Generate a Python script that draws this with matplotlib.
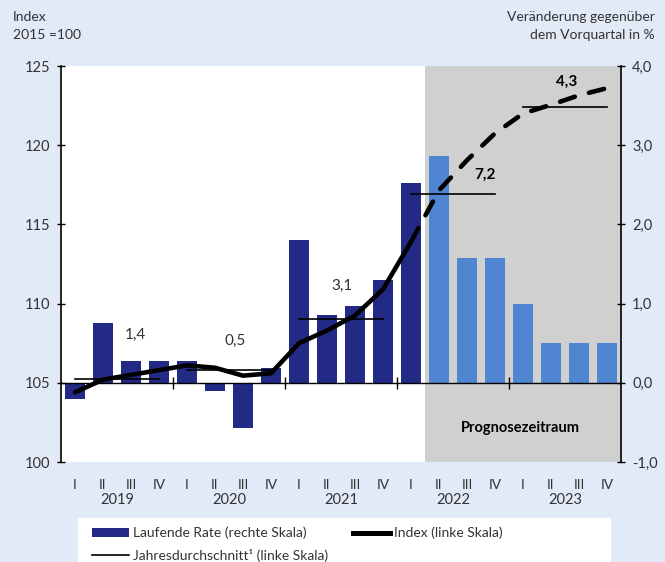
import matplotlib.pyplot as plt
from matplotlib.lines import Line2D
from matplotlib.patches import Patch, Rectangle

# quarters 2019 Q1 .. 2023 Q4
quarters = ['I', 'II', 'III', 'IV'] * 5
years = ['2019', '2020', '2021', '2022', '2023']

# Laufende Rate (rechte Skala), % gegenueber Vorquartal
rate = [-0.2, 0.76, 0.28, 0.28, 0.28, -0.1, -0.57, 0.19,
        1.8, 0.86, 0.97, 1.3, 2.52,
        2.86, 1.58, 1.57, 1.0, 0.5, 0.5, 0.5]
n_actual = 13  # 2019Q1 .. 2022Q1 sind Ist-Werte

# Index (linke Skala), 2015 = 100
index = [104.4, 105.2, 105.5, 105.8, 106.1, 105.95, 105.45, 105.6,
         107.5, 108.3, 109.25, 110.9, 113.9,
         117.15, 119.05, 120.75, 122.0, 122.55, 123.15, 123.6]

# Jahresdurchschnitte (linke Skala) und Veraenderungsraten
year_avg = [105.25, 105.8, 109.05, 116.95, 122.4]
year_rate = ['1,4', '0,5', '3,1', '7,2', '4,3']
label_x = [2.14, 5.71, 9.54, 14.64, 17.57]
label_y = [108.0, 107.65, 111.1, 118.1, 124.0]

bg = '#e2e9f7'
dark_blue = '#232a86'
light_blue = '#5085d2'
grey = '#d0d0d0'
txt = '#333333'

plt.rcParams['font.family'] = ['Lato', 'DejaVu Sans']

fig = plt.figure(figsize=(6.65, 5.62), dpi=100, facecolor=bg)
ax2 = fig.add_axes([61 / 665, 100 / 562, 560 / 665, 396 / 562])
ax = ax2.twinx()
# index axis on the left, rate axis on the right
ax.yaxis.tick_left()
ax2.yaxis.tick_right()
ax.set_zorder(ax2.get_zorder() + 1)
ax.patch.set_visible(False)
ax2.patch.set_visible(True)
ax2.patch.set_facecolor('white')

x = list(range(len(rate)))
ax2.axvspan(12.5, 19.5, color=grey, lw=0, zorder=0)
colors = [dark_blue] * n_actual + [light_blue] * (len(rate) - n_actual)
ax2.bar(x, rate, width=0.68, color=colors, zorder=2)
ax2.axhline(0, color='black', lw=1, zorder=3)
ax2.plot([3.5, 7.5, 11.5, 15.5], [0, 0, 0, 0], ls='none', marker='|',
         ms=9, mew=1, color='black', zorder=3)
ax2.set_ylim(-1, 4)
ax2.set_yticks([-1, 0, 1, 2, 3, 4])
ax2.set_yticklabels(['-1,0', '0,0', '1,0', '2,0', '3,0', '4,0'])

ax.plot(x[:n_actual], index[:n_actual], color='black', lw=3.3,
        solid_capstyle='round', solid_joinstyle='round', zorder=5)
ax.plot(x[n_actual - 1:], index[n_actual - 1:], color='black', lw=3.3,
        linestyle=(0, (3.4, 3.2)), dash_capstyle='round', zorder=5)
for i, (avg, r, lx, ly) in enumerate(zip(year_avg, year_rate, label_x, label_y)):
    ax.plot([4 * i, 4 * i + 3], [avg, avg], color='black', lw=1.2, zorder=4)
    bold = i >= 3
    ax.text(lx, ly, r, ha='center', va='center', fontsize=11,
            color='black' if bold else txt,
            fontweight='bold' if bold else 'normal', zorder=6)
ax.set_ylim(100, 125)
ax.set_yticks([100, 105, 110, 115, 120, 125])
ax.set_xlim(-0.5, 19.5)

ax.text(15.9, 102.15, 'Prognosezeitraum', ha='center', va='center',
        fontsize=10.5, fontweight='bold', color='black', zorder=6)

for a in (ax, ax2):
    for s in ('top', 'bottom'):
        a.spines[s].set_visible(False)
    a.spines['left'].set_visible(a is ax)
    a.spines['right'].set_visible(a is ax2)
    a.tick_params(axis='y', direction='inout', length=6, width=1,
                  labelsize=10.5, labelcolor=txt, pad=5)
ax.spines['left'].set_linewidth(1.2)
ax2.spines['right'].set_linewidth(1.2)

ax2.set_xticks(x)
ax2.set_xticklabels(quarters, fontsize=10, color=txt)
ax2.tick_params(axis='x', length=0, pad=12)
ax.tick_params(axis='x', bottom=False, labelbottom=False)
for i, yr in enumerate(years):
    ax2.text(4 * i + 1.5, -38 / 396, yr, transform=ax2.get_xaxis_transform(),
             ha='center', va='center', fontsize=10.5, color=txt)

fig.text(13 / 665, 1 - 17 / 562, 'Index', ha='left', va='center',
         fontsize=10, color=txt)
fig.text(13 / 665, 1 - 35 / 562, '2015 =100', ha='left', va='center',
         fontsize=10, color=txt)
fig.text(655 / 665, 1 - 17 / 562, 'Veränderung gegenüber', ha='right',
         va='center', fontsize=10, color=txt)
fig.text(655 / 665, 1 - 35 / 562, 'dem Vorquartal in %', ha='right',
         va='center', fontsize=10, color=txt)

# white legend panel
fig.patches.append(Rectangle((78 / 665, 0), 533 / 665, 44 / 562,
                             transform=fig.transFigure, facecolor='white',
                             edgecolor='none', zorder=0))
handles = [Patch(facecolor=dark_blue, edgecolor='none'),
           Line2D([0], [0], color='black', lw=1.2),
           Line2D([0], [0], color='black', lw=3.6)]
labels = ['Laufende Rate (rechte Skala)',
          'Jahresdurchschnitt\u00b9 (linke Skala)',
          'Index (linke Skala)']
leg = fig.legend(handles, labels, loc='upper left', ncol=2,
                 bbox_to_anchor=(82 / 665, 1 - 517 / 562), fontsize=10,
                 frameon=False, handlelength=2.7, handleheight=0.55,
                 handletextpad=0.25, columnspacing=1.8, labelspacing=0.7,
                 borderpad=0.2)
for t in leg.get_texts():
    t.set_color(txt)

fig.savefig('out.png', dpi=100, facecolor=bg)
